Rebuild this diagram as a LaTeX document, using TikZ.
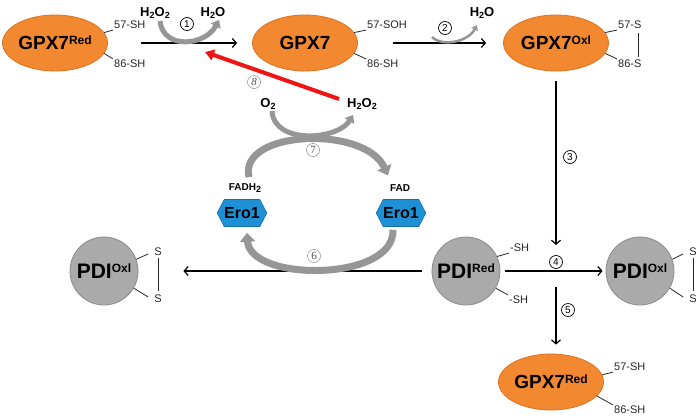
\documentclass[tikz,border=0pt]{standalone}
\usepackage{fontspec}
\setmainfont{Liberation Sans}
\newfontfamily\numserif{Liberation Serif}
\usetikzlibrary{arrows.meta,shapes.geometric,shapes.symbols,calc}
\definecolor{gpxfill}{RGB}{242,136,48}
\definecolor{gpxedge}{RGB}{222,114,32}
\definecolor{pdifill}{RGB}{170,170,170}
\definecolor{pdiedge}{RGB}{140,140,140}
\definecolor{erofill}{RGB}{30,144,214}
\definecolor{eroedge}{RGB}{22,110,170}
\definecolor{flowgray}{RGB}{150,150,150}
\definecolor{redarrow}{RGB}{240,20,20}
\newcommand{\supr}[2][5pt]{\raisebox{#1}{\fontsize{12}{12}\selectfont #2}}
\newcommand{\chsub}[1]{\raisebox{-2.5pt}{\fontsize{9}{9}\selectfont #1}}
\begin{document}
\begin{tikzpicture}[x=1pt,y=-1pt,
  gpx/.style={ellipse, fill=gpxfill, draw=gpxedge, line width=0.8pt, minimum width=105pt, minimum height=56pt, inner sep=0pt, font=\fontsize{19}{19}\selectfont\bfseries},
  pdi/.style={circle, fill=pdifill, draw=pdiedge, line width=0.8pt, minimum size=68pt, inner sep=0pt, font=\fontsize{21}{21}\selectfont\bfseries},
  ero/.style={signal, signal to=west and east, signal pointer angle=125, fill=erofill, draw=eroedge, line width=0.6pt, minimum width=46pt, minimum height=27pt, inner sep=0pt, font=\fontsize{16}{16}\selectfont\bfseries},
  lab/.style={font=\fontsize{11}{11}\selectfont, inner sep=1pt, text=black!85},
  chem/.style={font=\fontsize{13}{13}\selectfont\bfseries, inner sep=1pt},
  small/.style={font=\fontsize{10}{10}\selectfont\bfseries, inner sep=1pt},
  tick/.style={line width=0.8pt, black!85},
  arr/.style={line width=1.2pt, -{Straight Barb[length=4pt,width=9pt,line width=1.2pt]}},
  garr/.style={draw=flowgray, line width=5pt, -{Triangle[length=7pt,width=11pt]}},
  bigarr/.style={draw=flowgray, line width=7pt, -{Triangle[length=9pt,width=15pt]}},
  cn/.style={circle, draw, line width=0.7pt, inner sep=0pt, minimum size=13pt, font=\fontsize{10}{10}\selectfont},
  cnl/.style={circle, draw=black!55, line width=0.4pt, inner sep=0pt, minimum size=13pt, font=\fontsize{11}{11}\numserif, text=black!70}
]
\path[use as bounding box, fill=white] (0,0) rectangle (699,418);

% GPX7 nodes
\node[gpx] (g1) at (55,43) {GPX7\supr{Red}};
\node[gpx] (g2) at (305,43) {GPX7};
\node[gpx] (g3) at (556,43) {GPX7\supr{Oxl}};
\node[gpx] (g4) at (551,382) {GPX7\supr{Red}};

% labels of GPX7 nodes
\node[lab, anchor=west] (g1u) at (113,25) {57-SH};
\node[lab, anchor=west] (g1d) at (113,64) {86-SH};
\draw[tick] (g1.12) -- (g1u.south west);
\draw[tick] (g1.-12) -- (g1d.north west);

\node[lab, anchor=west] (g2u) at (366,25) {57-SOH};
\node[lab, anchor=west] (g2d) at (366,64) {86-SH};
\draw[tick] (g2.12) -- (g2u.south west);
\draw[tick] (g2.-12) -- (g2d.north west);

\node[lab, anchor=west] (g3u) at (617,25) {57-S};
\node[lab, anchor=west] (g3d) at (617,64) {86-S};
\draw[tick] (g3.12) -- (g3u.south west);
\draw[tick] (g3.-12) -- (g3d.north west);
\draw[tick] ($(g3u.south east)+(-4.5,3)$) -- ($(g3d.north east)+(-4.5,-2)$);

\node[lab, anchor=west] (g4u) at (613,367) {57-SH};
\node[lab, anchor=west] (g4d) at (613,410) {86-SH};
\draw[tick] (g4.8) -- (g4u.south west);
\draw[tick] (g4.-17) -- (g4d.north west);

% PDI nodes
\node[pdi] (pL) at (104,271) {PDI\supr[6.5pt]{Oxl}};
\node[pdi] (pR) at (466,271) {PDI\supr[6.5pt]{Red}};
\node[pdi] (pO) at (640,271) {PDI\supr[6.5pt]{Oxl}};

\node[lab] (pLu) at (158,252) {S};
\node[lab] (pLd) at (158,299) {S};
\draw[tick] (pL.20) -- ($(pLu.west)+(-5,2)$);
\draw[tick] (pL.-30) -- ($(pLd.west)+(-5,-2)$);
\draw[tick] ($(pLu.south)+(0,1)$) -- ($(pLd.north)+(0,-3)$);

\node[lab, anchor=west] (pRu) at (509,248) {-SH};
\node[lab, anchor=west] (pRd) at (508,300) {-SH};
\draw[tick] (pR.25) -- (pRu.south west);
\draw[tick] (pR.-30) -- (pRd.north west);

\node[lab] (pOu) at (693,252) {S};
\node[lab] (pOd) at (693,299) {S};
\draw[tick] (pO.20) -- ($(pOu.west)+(-5,2)$);
\draw[tick] (pO.-30) -- ($(pOd.west)+(-5,-2)$);
\draw[tick] ($(pOu.south)+(0,1)$) -- ($(pOd.north)+(0,-3)$);

% Ero1 nodes
\node[ero] (eL) at (242,213) {Ero1};
\node[ero] (eR) at (401,213) {Ero1};
\node[small] (fadh) at (245,188) {FADH\chsub{2}};
\node[small] (fad) at (400,188) {FAD};

% chemical labels
\node[chem] (h2o2a) at (155,13) {H\chsub{2}O\chsub{2}};
\node[chem] (h2oa) at (213,13) {H\chsub{2}O};
\node[chem] (h2ob) at (482,13) {H\chsub{2}O};
\node[chem] (o2) at (268,104) {O\chsub{2}};
\node[chem] (h2o2b) at (362,104) {H\chsub{2}O\chsub{2}};

% black arrows
\coordinate (junc) at (556,273);
\draw[arr] ([xshift=33pt]g1.east) -- ([xshift=-15pt]g2.west);
\draw[arr] ([xshift=35pt]g2.east) -- ([xshift=-17pt]g3.west);
\draw[arr] ([yshift=-10pt]g3.south) -- ([yshift=28pt]junc);
\draw[arr] ([xshift=5pt]pR.east) -- ([xshift=-3pt]pO.west);
\draw[arr] ([yshift=-14pt]junc) -- ([yshift=9pt]g4.north -| junc);
\draw[arr] ([xshift=-10pt]pR.west) -- ([xshift=45pt]pL.east);

% gray curved arrows
\draw[garr] ($(h2o2a.south)+(5,1)$) .. controls (163,50) and (205,46) .. ($(h2oa.south)+(6,0)$);
\draw[draw=flowgray, line width=2.5pt, -{Triangle[length=5pt,width=7pt]}] (432,37) .. controls (442,47) and (468,42) .. ($(h2ob.south)+(-5,5)$);
\draw[bigarr] ($(fadh.north)+(4,-5)$) .. controls (238,130) and (365,125) .. ($(fad.north)+(-12,-8)$);
\draw[garr] ($(o2.south)+(4,0)$) .. controls (274,145) and (338,140) .. ($(h2o2b.south)+(-9,4)$);
\draw[bigarr] ($(eR.south)+(-8,3)$) .. controls (395,282) and (250,282) .. ($(eL.south)+(5,6)$);

% red arrow
\coordinate (redend) at (205,52);
\draw[line width=4pt, redarrow, -{Triangle[length=9pt,width=11pt]}] ($(h2o2b.west)+(-7,-5)$) -- (redend);

% circled numbers
\node[cn] (c1) at (187,24) {1};
\node[cn] (c2) at (445,28) {2};
\node[cn] (c3) at (570,157) {3};
\node[cn] (c4) at (556,262) {4};
\node[cn] (c5) at (568,310) {5};
\node[cnl] (c6) at (314,256) {6};
\node[cnl] (c7) at (313,150) {7};
\node[cnl] (c8) at (254,82) {\itshape 8};
\end{tikzpicture}
\end{document}
